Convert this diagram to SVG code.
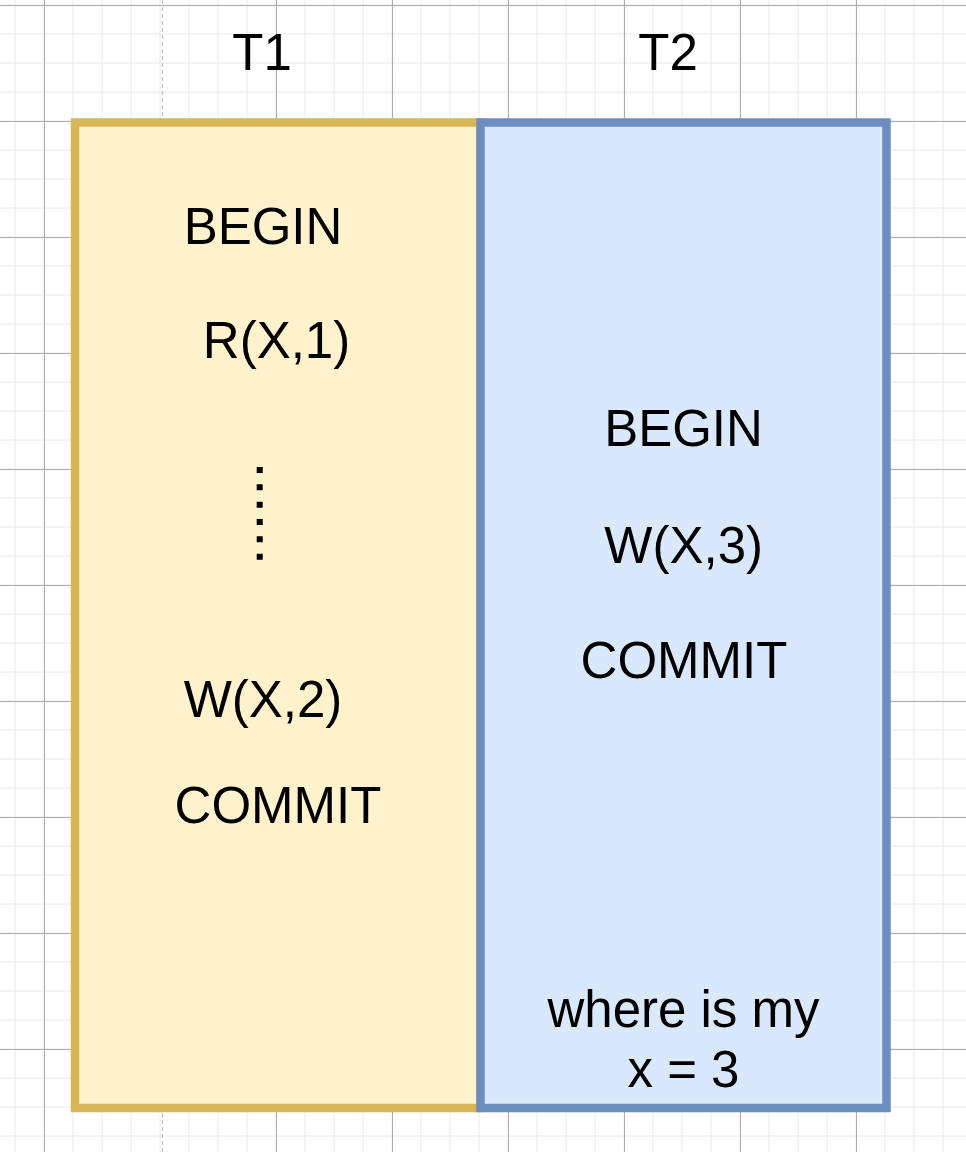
<svg xmlns="http://www.w3.org/2000/svg" width="966" height="1152" viewBox="0 0 966 1152">
  <defs>
    <pattern id="minor" patternUnits="userSpaceOnUse" x="14.5" y="4.5" width="29" height="29">
      <path d="M0.5 0 V29 M0 0.5 H29" stroke="#ebebeb" stroke-width="1.3" fill="none"/>
    </pattern>
    <style>
      .lbl { font-family: "Liberation Sans", Arial, Helvetica, sans-serif; font-size: 51px; fill: #000; text-anchor: middle; }
      .major { stroke: #aeaaad; stroke-width: 1; fill: none; }
    </style>
  </defs>
  <rect width="966" height="1152" fill="#ffffff"/>
  <rect width="966" height="1152" fill="url(#minor)"/>
  <g id="grid-major">
    <path class="major" d="M44.5 0 V1152 M276.5 0 V1152 M392.5 0 V1152 M508.5 0 V1152 M624.5 0 V1152 M740.5 0 V1152 M856.5 0 V1152 M0 5.5 H966 M0 121.5 H966 M0 237.5 H966 M0 353.5 H966 M0 469.5 H966 M0 585.5 H966 M0 701.5 H966 M0 817.5 H966 M0 933.5 H966 M0 1049.5 H966"/>
    <line x1="162.5" y1="0" x2="162.5" y2="1152" stroke="#c2c2c2" stroke-width="1.2" stroke-dasharray="4 3"/>
  </g>
  <text class="lbl" x="262" y="70">T1</text>
  <text class="lbl" x="668" y="70">T2</text>
  <g id="t1">
    <rect x="75" y="122.5" width="405.5" height="985.5" fill="#fff2cc" stroke="#d6b656" stroke-width="8.5"/>
    <text class="lbl" x="263" y="244">BEGIN</text>
    <text class="lbl" x="276.5" y="358">R(X,1)</text>
    <line x1="259.7" y1="467" x2="259.7" y2="562" stroke="#000" stroke-width="6" stroke-dasharray="6 11.33"/>
    <text class="lbl" x="263" y="717">W(X,2)</text>
    <text class="lbl" x="278" y="823">COMMIT</text>
  </g>
  <g id="t2">
    <rect x="480.5" y="122.5" width="406" height="985.5" fill="#dae8fc" stroke="#6c8ebf" stroke-width="8.5"/>
    <text class="lbl" x="683.5" y="446">BEGIN</text>
    <text class="lbl" x="683.7" y="563">W(X,3)</text>
    <text class="lbl" x="684" y="678">COMMIT</text>
    <text class="lbl" x="683.5" y="1027">where is my</text>
    <text class="lbl" x="683.5" y="1087">x = 3</text>
  </g>
  <g id="connectors"/>
</svg>
